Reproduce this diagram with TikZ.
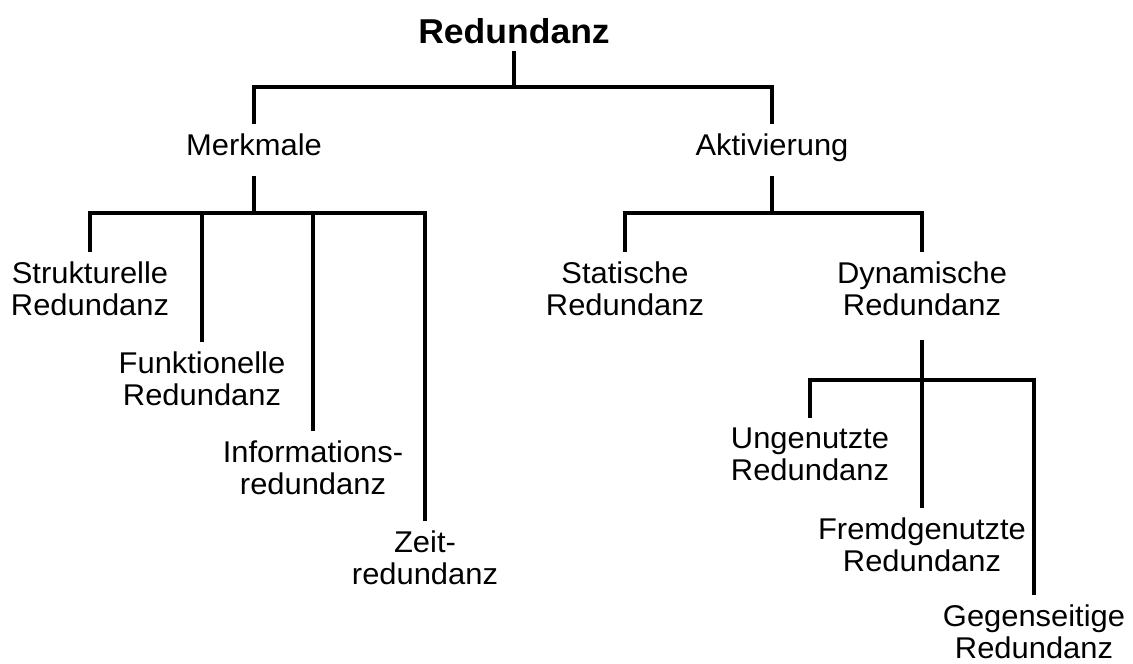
\documentclass[tikz,border=0pt]{standalone}
\usepackage{fontspec}
\setmainfont[FakeStretch=1.03]{Liberation Sans}
\begin{document}
\begin{tikzpicture}[x=1pt,y=-1pt,
  lbl/.style={inner sep=0pt, align=center, anchor=north, font=\fontsize{30}{32}\selectfont},
  ttl/.style={inner sep=0pt, anchor=north, font=\fontsize{34.5}{38}\selectfont\bfseries},
  conn/.style={line width=3.8pt, line join=miter}]
\useasboundingbox (0,0) rectangle (1133,664);
\fill[white] (0,0) rectangle (1133,664);

\node[ttl] (root) at (514,18) {Redundanz};
\node[lbl] (merk) at (254,134) {Merkmale};
\node[lbl] (akt) at (772,134) {Aktivierung};
\node[lbl] (str) at (90,262) {Strukturelle\\Redundanz};
\node[lbl] (fun) at (202,352) {Funktionelle\\Redundanz};
\node[lbl] (inf) at (313,441) {Informations-\\redundanz};
\node[lbl] (zeit) at (425,531) {Zeit-\\redundanz};
\node[lbl] (stat) at (625,262) {Statische\\Redundanz};
\node[lbl] (dyn) at (922,262) {Dynamische\\Redundanz};
\node[lbl] (ung) at (810,428) {Ungenutzte\\Redundanz};
\node[lbl] (fre) at (922,518) {Fremdgenutzte\\Redundanz};
\node[lbl] (geg) at (1034,605) {Gegenseitige\\Redundanz};

\coordinate (b1) at (513,87);
\coordinate (b2) at (254,213);
\coordinate (b3) at (772,213);
\coordinate (b4) at (922,380);

\draw[conn] (root.south |- 0,51) -- (root.south |- b1);
\draw[conn] ([yshift=10pt]merk.north) |- (b1) -| ([yshift=10pt]akt.north);

\draw[conn] ([yshift=-20pt]merk.base) -- (merk.base |- b2);
\draw[conn] ([yshift=10pt]str.north) |- (b2) -| ([yshift=10pt]zeit.north);
\draw[conn] (fun.north |- b2) -- ([yshift=10pt]fun.north);
\draw[conn] (inf.north |- b2) -- ([yshift=10pt]inf.north);

\draw[conn] ([yshift=-20pt]akt.base) -- (akt.base |- b3);
\draw[conn] ([yshift=10pt]stat.north) |- (b3) -| ([yshift=10pt]dyn.north);

\draw[conn] ([yshift=-24pt]dyn.south) -- ([yshift=10pt]fre.north);
\draw[conn] ([yshift=10pt]ung.north) |- (b4) -| ([yshift=10pt]geg.north);
\end{tikzpicture}
\end{document}
